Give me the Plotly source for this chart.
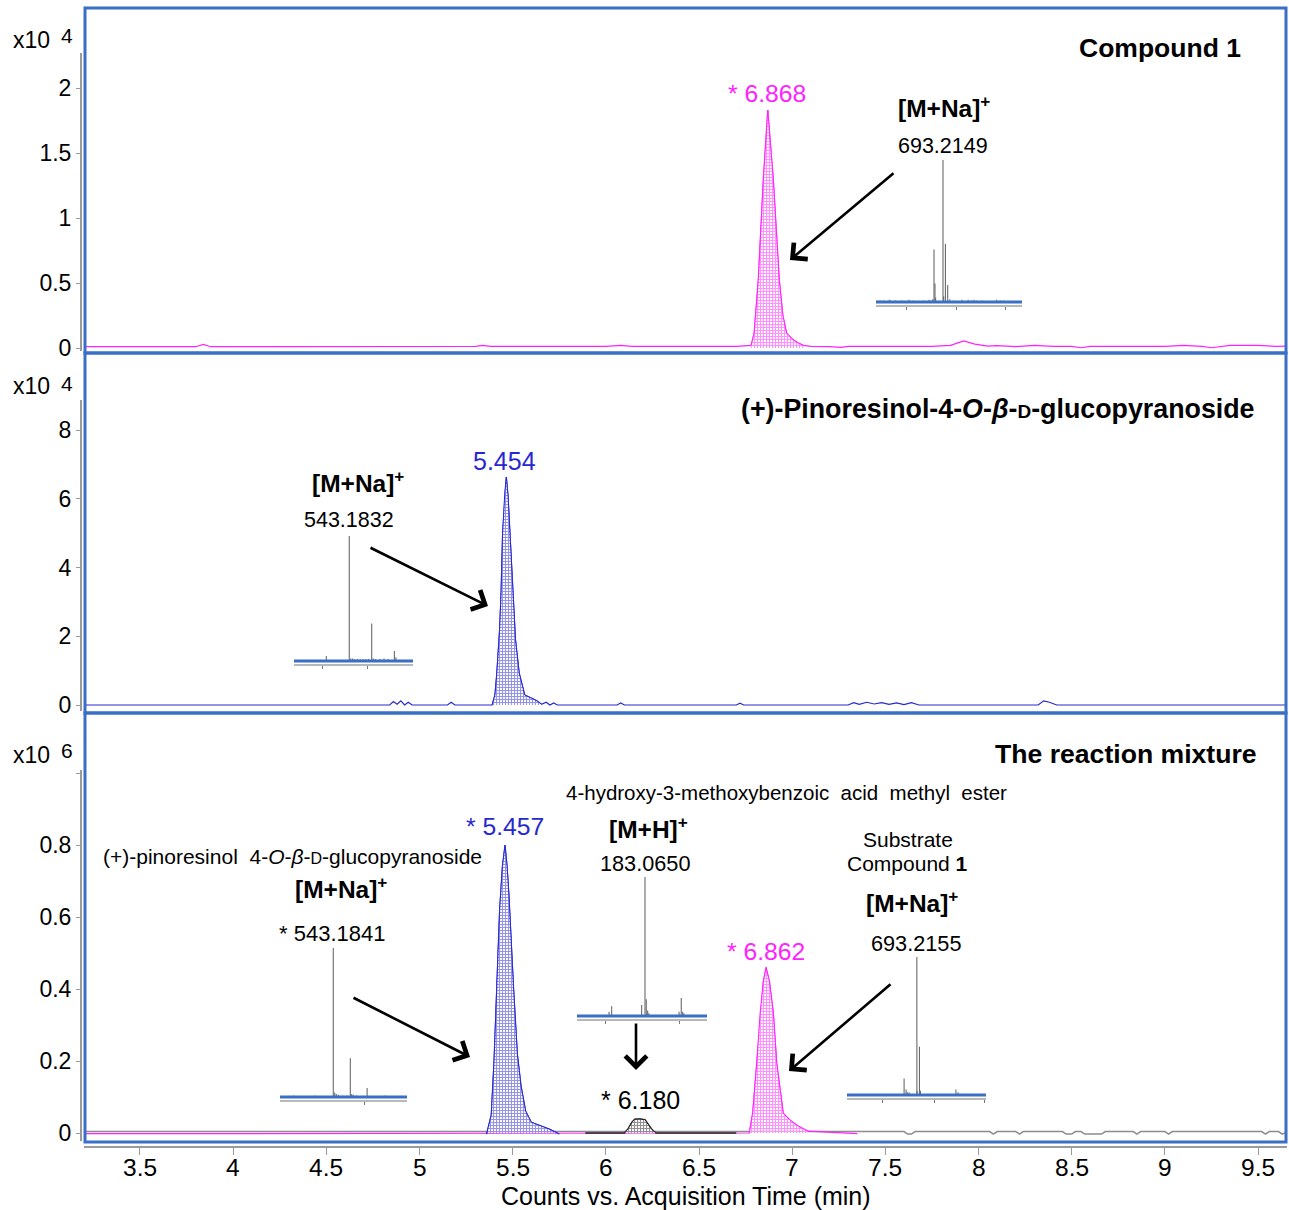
import plotly.graph_objects as go

W, H = 1289, 1210

# ---------------- data ----------------
# Panel 1: Compound 1 (counts x10^4)
p1_time = [3.20, 3.50, 3.80, 3.84, 3.88, 4.20, 4.60, 4.90, 5.00, 5.30, 5.34, 5.38, 5.60, 6.00, 6.08,
           6.14, 6.20, 6.50, 6.70, 6.78, 6.796, 6.818, 6.845, 6.869, 6.899, 6.915, 6.931, 6.95, 6.97, 7.00,
           7.03, 7.06, 7.10, 7.20, 7.26, 7.30, 7.50, 7.60, 7.75, 7.85, 7.92, 7.98, 8.05, 8.10, 8.20,
           8.30, 8.40, 8.50, 8.55, 8.60, 8.80, 8.90, 9.00, 9.10, 9.20, 9.25, 9.35, 9.50, 9.60, 9.657]
p1_counts = [0.010, 0.010, 0.010, 0.028, 0.010, 0.010, 0.012, 0.012, 0.014, 0.012, 0.020, 0.012, 0.012, 0.012, 0.020,
             0.012, 0.012, 0.012, 0.012, 0.020, 0.115, 0.52, 1.29, 1.83, 1.29, 0.90, 0.52, 0.25, 0.115, 0.07,
             0.04, 0.02, 0.012, 0.010, 0.005, 0.012, 0.012, 0.012, 0.012, 0.020, 0.055, 0.030, 0.015, 0.018, 0.010,
             0.020, 0.012, 0.012, 0.002, 0.012, 0.012, 0.016, 0.012, 0.020, 0.012, 0.002, 0.020, 0.020, 0.012, 0.015]
p1_window = [6.78, 7.06]

# Panel 2: (+)-pinoresinol-4-O-beta-D-glucopyranoside (counts x10^4)
p2_time = [3.20, 4.84, 4.86, 4.88, 4.90, 4.92, 4.94, 4.96, 5.15, 5.17, 5.19, 5.39,
           5.405, 5.415, 5.43, 5.438, 5.446, 5.458, 5.466, 5.475, 5.485, 5.50, 5.515, 5.535, 5.565, 5.60, 5.63,
           5.655, 5.68, 5.70, 5.72, 5.74, 5.76, 6.06, 6.08, 6.10, 6.70, 6.72, 6.74, 7.30, 7.33, 7.36,
           7.40, 7.44, 7.48, 7.52, 7.56, 7.60, 7.64, 7.68, 8.32, 8.35, 8.38, 8.42, 9.657]
p2_counts = [0.0, 0.0, 0.10, 0.02, 0.12, 0.0, 0.08, 0.0, 0.0, 0.08, 0.0, 0.0,
             0.30, 0.93, 2.2, 3.3, 5.0, 6.2, 6.63, 6.1, 5.1, 3.3, 1.9, 0.93, 0.29, 0.20, 0.12,
             0.02, 0.08, 0.0, 0.06, 0.0, 0.0, 0.0, 0.06, 0.0, 0.0, 0.05, 0.0, 0.0, 0.07, 0.02,
             0.08, 0.03, 0.07, 0.02, 0.06, 0.01, 0.07, 0.0, 0.0, 0.12, 0.08, 0.0, 0.0]
p2_window = [5.39, 5.655]

# Panel 3: reaction mixture (counts x10^6)
p3_gray_time = [3.20, 7.60, 7.62, 7.64, 7.66, 8.06, 8.08, 8.10, 8.20, 8.22, 8.24, 8.45, 8.47, 8.50, 8.52,
                8.55, 8.57, 8.66, 8.68, 8.83, 8.85, 8.87, 9.00, 9.02, 9.04, 9.52, 9.54, 9.56, 9.61, 9.63, 9.657]
p3_gray_counts = [0.004, 0.004, -0.003, -0.003, 0.004, 0.004, -0.003, 0.004, 0.004, -0.003, 0.004, 0.004, -0.003, -0.003, 0.004,
                  0.004, -0.003, -0.003, 0.004, 0.004, -0.003, 0.004, 0.004, -0.003, 0.004, 0.004, -0.003, 0.004, 0.004, -0.003, 0.004]
p3_mag_time = [3.20, 6.77, 6.788, 6.81, 6.828, 6.845, 6.86, 6.878, 6.899, 6.917, 6.952, 6.99, 7.03, 7.085, 7.35]
p3_mag_counts = [-0.002, 0.0, 0.055, 0.194, 0.333, 0.42, 0.46, 0.42, 0.333, 0.194, 0.055, 0.035, 0.02, 0.005, -0.002]
p3_mag_window = [6.77, 7.085]
p3_blk_time = [5.89, 6.10, 6.12, 6.14, 6.155, 6.18, 6.21, 6.23, 6.25, 6.27, 6.70]
p3_blk_counts = [0.0, 0.0, 0.012, 0.03, 0.038, 0.039, 0.037, 0.022, 0.008, 0.0, 0.0]
p3_blk_window = [6.10, 6.27]
p3_blu_time = [5.36, 5.385, 5.40, 5.415, 5.43, 5.445, 5.459, 5.47, 5.48, 5.505, 5.525, 5.545, 5.57, 5.60, 5.65, 5.70, 5.75]
p3_blu_counts = [-0.003, 0.05, 0.2, 0.4, 0.62, 0.74, 0.80, 0.74, 0.66, 0.40, 0.22, 0.13, 0.06, 0.03, 0.02, 0.01, -0.003]
p3_blu_window = [5.36, 5.75]

# Mass-spectrum insets (m/z, relative intensity %)
ms1_mz = [515, 522, 530, 546, 549, 562, 580, 600, 612, 640, 655, 660, 665, 668.5, 671.2, 673, 693.2, 695, 699.8, 706,
          712, 722, 745, 762, 770, 778, 786, 800, 840, 850, 860]
ms1_int = [1, 1, 1, 1.5, 1, 1, 1, 1.5, 1, 1, 1.5, 1, 2, 37, 13, 3, 100, 4, 41, 12,
           2, 1, 1.5, 1.5, 1, 1.5, 1, 1, 1.5, 1, 1]
ms2_mz = [526.8, 543.18, 544.2, 545.5, 547, 549, 551, 553, 555, 557, 559.2, 560.3, 562, 565, 568, 571, 575.4, 576.5]
ms2_int = [4, 100, 2, 2, 1.5, 1.5, 1.5, 1.5, 1.5, 1.5, 30, 2, 1.5, 1.5, 2, 1.5, 8, 3]
ms3_mz = [506, 526, 543.18, 544.5, 546, 548, 552, 556, 559.2, 560.5, 562, 565, 575, 592]
ms3_int = [1, 1, 100, 3, 2, 1.5, 1, 1, 26, 2, 1.5, 1, 6, 1]
ms4_mz = [165.1, 166.4, 181.4, 183.065, 183.7, 184.4, 185.0, 200.1, 201.2, 201.9, 202.5]
ms4_int = [3, 7, 8, 100, 12, 4, 2, 3, 13, 3, 2]
ms5_mz = [658.3, 663.8, 667, 672, 693.2, 693.9, 700.3, 703, 800, 806]
ms5_int = [12, 4, 2, 2, 100, 3, 35, 3, 4, 2]

# Tick labels
x_tickvals = [3.5, 4, 4.5, 5, 5.5, 6, 6.5, 7, 7.5, 8, 8.5, 9, 9.5]
x_ticktext = ["3.5", "4", "4.5", "5", "5.5", "6", "6.5", "7", "7.5", "8", "8.5", "9", "9.5"]
p1_tickvals = [0, 0.5, 1, 1.5, 2]
p1_ticktext = ["0", "0.5", "1", "1.5", "2"]
p2_tickvals = [0, 2, 4, 6, 8]
p2_ticktext = ["0", "2", "4", "6", "8"]
p3_tickvals = [0, 0.2, 0.4, 0.6, 0.8, 1.0]
p3_ticktext = ["0", "0.2", "0.4", "0.6", "0.8", ""]

# ---------------- helpers ----------------
def fx(px):
    return px / W

def fy(py):
    return 1 - py / H

def ydomain(top_px, bot_px):
    return [fy(bot_px), fy(top_px)]

def yrange(zero_px, px_per_unit, top_px, bot_px):
    return [(zero_px - bot_px) / px_per_unit, (zero_px - top_px) / px_per_unit]

def window(ts, vs, lo, hi):
    pts = [(t, v) for t, v in zip(ts, vs) if lo <= t <= hi]
    return [p[0] for p in pts], [p[1] for p in pts]

def sticks(mz, inten):
    xs, ys = [], []
    for m, h in zip(mz, inten):
        xs += [m, m, None]
        ys += [0, h, None]
    return xs, ys

MAG = "#ff22ff"
BLU = "#2828d0"
BLK = "#222222"
BORDER = "#3a6fc8"
AXG = "#9a9a9a"
FONT = "Liberation Sans, Arial, sans-serif"

fig = go.Figure()

def line_trace(ts, vs, color, xa, ya, width=1.2):
    fig.add_trace(go.Scatter(x=ts, y=vs, mode="lines", line=dict(color=color, width=width),
                             xaxis=xa, yaxis=ya, hoverinfo="skip"))

def fill_trace(ts, vs, win, color, xa, ya):
    wx, wy = window(ts, vs, win[0], win[1])
    fig.add_trace(go.Scatter(x=wx, y=wy, mode="lines", line=dict(color=color, width=1),
                             fill="tozeroy", fillcolor="white",
                             fillpattern=dict(shape="+", fgcolor=color, bgcolor="white", size=3, solidity=0.6),
                             xaxis=xa, yaxis=ya, hoverinfo="skip"))

# Panel 1
line_trace(p1_time, p1_counts, MAG, "x", "y")
fill_trace(p1_time, p1_counts, p1_window, MAG, "x", "y")
# Panel 2
line_trace(p2_time, p2_counts, BLU, "x2", "y2")
fill_trace(p2_time, p2_counts, p2_window, BLU, "x2", "y2")
# Panel 3
line_trace(p3_gray_time, p3_gray_counts, "#8c8c8c", "x3", "y3", 1.5)
line_trace(p3_mag_time, p3_mag_counts, MAG, "x3", "y3")
fill_trace(p3_mag_time, p3_mag_counts, p3_mag_window, MAG, "x3", "y3")
line_trace(p3_blk_time, p3_blk_counts, BLK, "x3", "y3", 1.5)
fill_trace(p3_blk_time, p3_blk_counts, p3_blk_window, BLK, "x3", "y3")
line_trace(p3_blu_time, p3_blu_counts, BLU, "x3", "y3")
fill_trace(p3_blu_time, p3_blu_counts, p3_blu_window, BLU, "x3", "y3")

# Insets: (mz, int, x0px, x1px, blue_y_px, main_top_px, mz_range, tickvals)
insets = [
    (ms1_mz, ms1_int, 876, 1022, 302, 160, [509.6, 909.6], [594.5, 728.8, 863.1]),
    (ms2_mz, ms2_int, 294, 413, 661, 536, [503.7, 588.7], [524.4, 556.5]),
    (ms3_mz, ms3_int, 280, 407, 1097, 948, [493.1, 612.5], [572.1]),
    (ms4_mz, ms4_int, 577, 707, 1016, 877, [149.07, 214.07], [163.1, 200.1]),
    (ms5_mz, ms5_int, 847, 986, 1095, 957, [502.2, 882.2], [600.0, 740.6, 878.4]),
]

layout_axes = {}
shapes = []
for i, (mz, inten, x0, x1, by, top, rng, tv) in enumerate(insets):
    n = i + 4
    xs, ys = sticks(mz, inten)
    fig.add_trace(go.Scatter(x=xs, y=ys, mode="lines", line=dict(color="#6a6a6a", width=1.1),
                             xaxis=f"x{n}", yaxis=f"y{n}", hoverinfo="skip", connectgaps=False))
    ppu = (by - top) / 100.0
    gy = by + 3
    ytop = top - 6
    layout_axes[f"xaxis{n}"] = dict(domain=[fx(x0), fx(x1)], range=rng, anchor=f"y{n}", automargin=False,
                                    showline=True, linecolor="#b8b8b8", linewidth=2,
                                    ticks="outside", ticklen=3, tickcolor="#777", tickwidth=1,
                                    tickvals=tv, showticklabels=False, showgrid=False, zeroline=False)
    layout_axes[f"yaxis{n}"] = dict(domain=ydomain(ytop, gy), range=yrange(by, ppu, ytop, gy), anchor=f"x{n}",
                                    automargin=False,
                                    showline=False, showticklabels=False, ticks="", showgrid=False, zeroline=False)
    shapes.append(dict(type="line", xref=f"x{n} domain", yref=f"y{n}", x0=0, x1=1, y0=0, y1=0,
                       line=dict(color=BORDER, width=3)))

XDOM = [fx(84), fx(1287)]
XRNG = [3.1995, 9.6555]
common_x = dict(domain=XDOM, range=XRNG, showgrid=False, zeroline=False, automargin=False)
ytick_style = dict(anchor="free", position=fx(81), ticks="outside", ticklen=5, tickcolor=AXG, tickwidth=1,
                   showgrid=False, zeroline=False, showline=False, automargin=False,
                   tickfont=dict(family=FONT, size=23, color="black"))

layout_axes["xaxis"] = dict(**common_x, anchor="y", showticklabels=False, ticks="", showline=False)
layout_axes["xaxis2"] = dict(**common_x, anchor="y2", showticklabels=False, ticks="", showline=False)
layout_axes["xaxis3"] = dict(**common_x, anchor="y3", showline=True, linecolor=AXG, linewidth=2,
                             ticks="outside", ticklen=7, tickcolor=AXG, tickwidth=1,
                             tickvals=x_tickvals, showticklabels=False)
layout_axes["yaxis"] = dict(domain=ydomain(8, 352), range=yrange(348, 130, 8, 352),
                            tickvals=p1_tickvals, ticktext=p1_ticktext, **ytick_style)
layout_axes["yaxis2"] = dict(domain=ydomain(353, 712), range=yrange(705, 34.375, 353, 712),
                             tickvals=p2_tickvals, ticktext=p2_ticktext, **ytick_style)
layout_axes["yaxis3"] = dict(domain=ydomain(713, 1146), range=yrange(1133, 360, 713, 1146),
                             tickvals=p3_tickvals, ticktext=p3_ticktext, **ytick_style)

# y-axis lines (gray) and panel borders (blue)
for (t, b) in [(53, 351), (400, 711), (770, 1141)]:
    shapes.append(dict(type="line", xref="paper", yref="paper", x0=fx(81), x1=fx(81), y0=fy(b), y1=fy(t),
                       line=dict(color=AXG, width=2)))
for (t, b) in [(8, 353), (353, 713), (713, 1142)]:
    shapes.append(dict(type="rect", xref="paper", yref="paper", x0=fx(85), x1=fx(1286), y0=fy(b), y1=fy(t),
                       line=dict(color=BORDER, width=3), fillcolor="rgba(0,0,0,0)", layer="above"))

annotations = []

def txt(x, y, text, size, color="black", xanchor="center"):
    annotations.append(dict(x=fx(x), y=fy(y), xref="paper", yref="paper", text=text, showarrow=False,
                            xanchor=xanchor, yanchor="middle",
                            font=dict(family=FONT, size=size, color=color)))

def arrow(tx, ty, hx, hy):
    annotations.append(dict(x=fx(hx), y=fy(hy), xref="paper", yref="paper", ax=tx - hx, ay=ty - hy,
                            text="", showarrow=True, arrowhead=4, arrowsize=1.6, arrowwidth=2.6,
                            arrowcolor="black", standoff=0))

# x tick labels placed through the x3 data scale
for v, lab in zip(x_tickvals, x_ticktext):
    annotations.append(dict(x=v, xref="x3", y=fy(1167), yref="paper", text=lab, showarrow=False,
                            xanchor="center", yanchor="middle",
                            font=dict(family=FONT, size=24.5, color="black")))

# axis multipliers
for (yc, ys, sup) in [(40, 35, "4"), (386, 383, "4"), (755, 750, "6")]:
    txt(11, yc, "x10", 23, xanchor="left")
    txt(59, ys, sup, 21, xanchor="left")

# Panel 1
txt(1160, 48, "<b>Compound 1</b>", 26.5)
txt(767, 93, "* 6.868", 24.7, MAG)
txt(944, 106, "<b>[M+Na]<sup>+</sup></b>", 24.5)
txt(943, 146, "693.2149", 21.5)
arrow(895, 172, 790, 260)

# Panel 2
txt(998, 409, "<b>(+)-Pinoresinol-4-<i>O</i>-<i>β</i>-<span style='font-size:19px'>D</span>-glucopyranoside</b>", 26.8)
txt(505, 461, "5.454", 25, BLU)
txt(358, 481, "<b>[M+Na]<sup>+</sup></b>", 24.5)
txt(349, 520, "543.1832", 21.5)
arrow(369, 547, 488, 606)

# Panel 3
txt(1126, 754, "<b>The reaction mixture</b>", 26.6)
txt(786, 792, "4-hydroxy-3-methoxybenzoic  acid  methyl  ester", 20.5)
txt(505, 826, "* 5.457", 24.7, BLU)
txt(649, 827, "<b>[M+H]<sup>+</sup></b>", 24.5)
txt(908, 839, "Substrate", 21)
txt(292, 856, "(+)-pinoresinol  4-<i>O</i>-<i>β</i>-<span style='font-size:16px'>D</span>-glucopyranoside", 21)
txt(645, 863, "183.0650", 21.7)
txt(907, 863, "Compound <b>1</b>", 21)
txt(341, 887, "<b>[M+Na]<sup>+</sup></b>", 24.5)
txt(912, 901, "<b>[M+Na]<sup>+</sup></b>", 24.5)
txt(332, 933, "* 543.1841", 22)
txt(916, 943, "693.2155", 21.7)
txt(766, 951, "* 6.862", 24.7, MAG)
txt(640, 1100, "* 6.180", 25, "black")
arrow(352, 997, 470, 1057)
arrow(636, 1022, 636, 1070)
arrow(892, 983, 789, 1071)

# x-axis title
txt(686, 1196, "Counts vs. Acquisition Time (min)", 25, "black")

fig.update_layout(width=W, height=H, margin=dict(l=0, r=0, t=0, b=0, pad=0, autoexpand=False),
                  paper_bgcolor="white", plot_bgcolor="rgba(0,0,0,0)", showlegend=False,
                  font=dict(family=FONT, color="black"),
                  shapes=shapes, annotations=annotations, **layout_axes)

fig.write_html(
    "out.html",
    config={"displayModeBar": False},
    post_script=(
        "document.documentElement.style.margin='0';"
        "document.body.style.margin='0';document.body.style.padding='0';"
        "document.body.style.overflow='hidden';"
    ),
)
